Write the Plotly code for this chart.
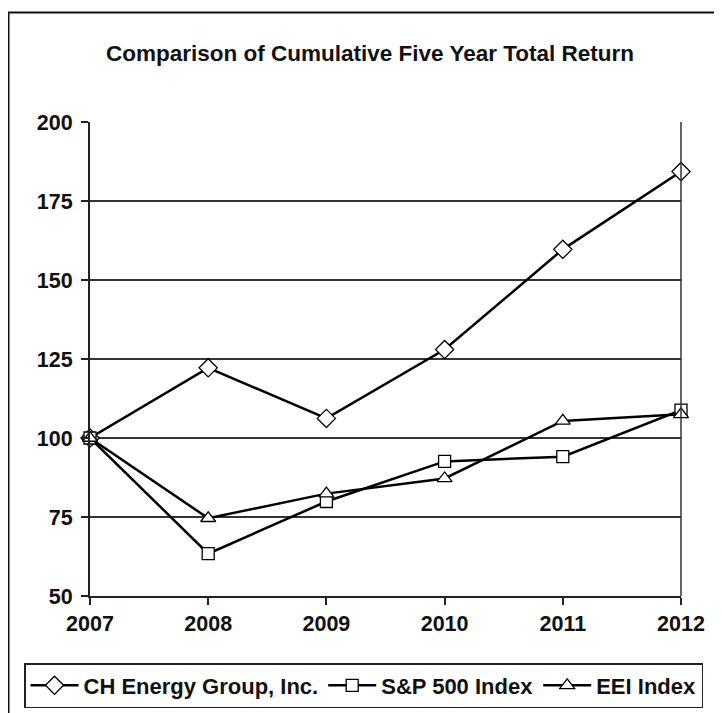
import plotly.graph_objects as go

years = [2007, 2008, 2009, 2010, 2011, 2012]
ch_energy = [100, 122.2, 106.2, 128.0, 159.7, 184.3]
sp500 = [100, 63.4, 79.9, 92.6, 94.1, 108.8]
eei = [100, 74.6, 82.4, 87.2, 105.4, 107.5]
y_ticks = [50, 75, 100, 125, 150, 175, 200]

series = [
    ("CH Energy Group, Inc.", ch_energy, "diamond", 14),
    ("S&P 500 Index", sp500, "square", 12),
    ("EEI Index", eei, "triangle-up", 13),
]

FONT = "Liberation Sans, Arial, sans-serif"

fig = go.Figure()
for name, vals, sym, size in series:
    fig.add_trace(go.Scatter(
        x=years, y=vals, name=name, mode="lines+markers",
        line=dict(color="black", width=2.5),
        marker=dict(symbol=sym, size=size, color="white",
                    line=dict(color="black", width=1.3)),
        cliponaxis=False,
    ))

# page offset (browser body margin) compensation
OFF = 8
W, H = 722, 713


def px(x):
    return (x - OFF) / W


def py(y):
    return 1 - (y - OFF) / H


fig.update_layout(
    width=W, height=H,
    margin=dict(l=0, r=0, t=0, b=0, pad=0, autoexpand=False),
    paper_bgcolor="white", plot_bgcolor="white",
    font=dict(family=FONT, size=21, color="#111", weight="bold"),
    showlegend=True,
    legend=dict(
        orientation="h", x=px(24), y=py(663), xanchor="left", yanchor="top",
        bordercolor="#222", borderwidth=1.5, bgcolor="white",
        font=dict(family=FONT, size=22, color="#111", weight="bold"),
        itemwidth=48, tracegroupgap=0,
    ),
    xaxis=dict(
        domain=[px(90), px(681)],
        range=[2007, 2012], tickvals=years, ticktext=[str(y) for y in years],
        showgrid=False, zeroline=False,
        showline=True, linecolor="#222", linewidth=2, mirror=False,
        ticks="outside", ticklen=7, tickwidth=1.5, tickcolor="#222",
        tickfont=dict(family=FONT, size=21.5, color="#111", weight="bold"),
    ),
    yaxis=dict(
        domain=[py(596), py(122)],
        range=[50, 200], tickvals=y_ticks,
        showgrid=True, gridcolor="#333", gridwidth=1.5, zeroline=False,
        showline=True, linecolor="#222", linewidth=2, mirror=False,
        ticks="outside", ticklen=7, tickwidth=1.5, tickcolor="#222",
        ticklabelstandoff=4,
        tickfont=dict(family=FONT, size=21.5, color="#111", weight="bold"),
    ),
)

# right edge of plot area
fig.add_shape(type="line", xref="x domain", yref="y domain", x0=1, x1=1, y0=0, y1=1,
              line=dict(color="#333", width=1.5))

# outer frame (extends past right/bottom of page)
fig.add_shape(type="rect", xref="paper", yref="paper",
              x0=px(8.5), x1=px(760),
              y0=py(760), y1=py(12.5),
              line=dict(color="#111", width=2), layer="below")

fig.add_annotation(
    text="Comparison of Cumulative Five Year Total Return",
    xref="paper", yref="paper", x=px(370), y=py(53),
    xanchor="center", yanchor="middle", showarrow=False,
    font=dict(family=FONT, size=22.5, color="#111", weight="bold"),
)

fig.write_html("out.html")
